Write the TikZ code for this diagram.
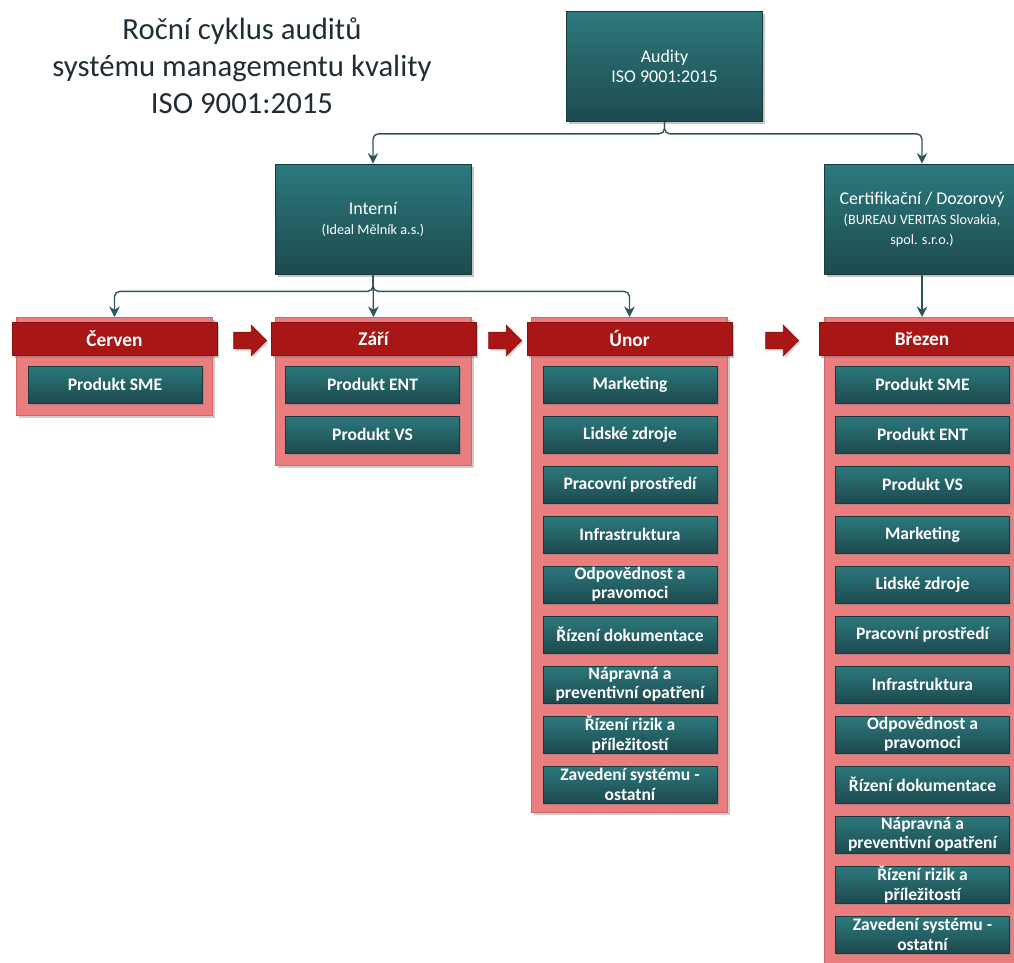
\documentclass[tikz,border=0pt]{standalone}
\usepackage{fontspec}
\setmainfont{Carlito}
\usepackage{tikz}
\usetikzlibrary{arrows.meta,positioning,shadows,shapes.arrows}
\definecolor{tealtop}{HTML}{2C797D}
\definecolor{tealbot}{HTML}{1D4A4E}
\definecolor{tealline}{HTML}{173A3C}
\definecolor{connline}{HTML}{2F5557}
\definecolor{monthred}{HTML}{A81616}
\definecolor{panelpink}{HTML}{EA7E7E}
\definecolor{panelline}{HTML}{D26666}
\definecolor{titlegray}{HTML}{1E2E34}
\newcommand{\subtxt}{\fontsize{8.1}{11.4}\selectfont}
\tikzset{%
	title/.style   = {align=center, text=titlegray, font=\fontsize{17.5}{21}\selectfont},
	audit/.style   = {draw=tealline, top color=tealtop, bottom color=tealbot, minimum width=3.92cm, minimum height=2.2cm, align=center, text=white, font=\fontsize{10.2}{11.4}\selectfont, drop shadow={shadow xshift=1.5pt, shadow yshift=-1.5pt, opacity=.45}},
	panel/.style   = {draw=panelline, fill=panelpink, minimum width=3.92cm, anchor=north, drop shadow={shadow xshift=1.5pt, shadow yshift=-1.5pt, opacity=.4}},
	month/.style   = {draw=monthred!80!black, fill=monthred, minimum width=4.1cm, minimum height=0.66cm, text=white, font=\fontsize{11}{13}\selectfont\bfseries, drop shadow={shadow xshift=1pt, shadow yshift=-1.5pt, opacity=.45}},
	item/.style    = {draw=tealline, top color=tealtop, bottom color=tealbot, minimum width=3.48cm, minimum height=0.74cm, inner sep=0pt, align=center, text=white, font=\fontsize{10}{11}\selectfont\bfseries, drop shadow={shadow xshift=1pt, shadow yshift=-1pt, opacity=.45}},
	next/.style    = {single arrow, fill=monthred, draw=monthred!85!black, inner xsep=0pt, inner ysep=0.16cm, single arrow head extend=0.14cm, single arrow head indent=0pt, minimum height=0.66cm, drop shadow={shadow xshift=1pt, shadow yshift=-1pt, opacity=.35}},
	conn/.style    = {draw=connline, thick, rounded corners=3pt, -{Stealth[length=6pt,width=6pt]}},
}
\begin{document}
\begin{tikzpicture}[x=0.02cm,y=-0.02cm]
	\useasboundingbox (0,0) rectangle (1014,963);
	\clip (0,0) rectangle (1014,963);
	\node[title] (title) at (242,66) {Roční cyklus auditů\\systému managementu kvality\\ISO 9001:2015};
	% top level
	\node[audit] (audit) at (664.5,66.5) {Audity\\ISO 9001:2015};
	\node[audit] (intern) at (373,219) {Interní\\{\subtxt (Ideal Mělník a.s.)}};
	\node[audit] (certif) at (922,219) {Certifikační / Dozorový\\{\subtxt (BUREAU VERITAS Slovakia,}\\{\subtxt spol. s.r.o.)}};
	% month panels
	\node[panel, minimum height=1.96cm] (cervenbox) at (114.5,317) {};
	\node[panel, minimum height=2.96cm] (zaribox) at (373.5,317) {};
	\node[panel, minimum height=9.9cm] (unorbox) at (629.5,317) {};
	\node[panel, minimum height=13.2cm] (brezenbox) at (922,317) {};
	\node[month] (cerven) at (114.5,338.5) {Červen};
	\node[month] (zari) at (373.5,338.5) {Září};
	\node[month] (unor) at (629.5,338.5) {Únor};
	\node[month] (brezen) at (922,338.5) {Březen};
	\node[next] (next1) at (246,340.5) {};
	\node[next] (next2) at (501,340.5) {};
	\node[next] (next3) at (778,340.5) {};
	% Cerven
	\node[item] (c1) at (115,384.5) {Produkt SME};
	% Zari
	\node[item] (z1) at (372.5,384.5) {Produkt ENT};
	\node[item] (z2) at (372.5,434.5) {Produkt VS};
	% Unor
	\node[item] (u1) at (630,384.5) {Marketing};
	\node[item] (u2) at (630,434.5) {Lidské zdroje};
	\node[item] (u3) at (630,484.5) {Pracovní prostředí};
	\node[item] (u4) at (630,534.5) {Infrastruktura};
	\node[item] (u5) at (630,584.5) {Odpovědnost a\\pravomoci};
	\node[item] (u6) at (630,634.5) {Řízení dokumentace};
	\node[item] (u7) at (630,684.5) {Nápravná a\\preventivní opatření};
	\node[item] (u8) at (630,734.5) {Řízení rizik a\\příležitostí};
	\node[item] (u9) at (630,784.5) {Zavedení systému -\\ostatní};
	% Brezen
	\node[item] (b1) at (922.5,384.5) {Produkt SME};
	\node[item] (b2) at (922.5,434.5) {Produkt ENT};
	\node[item] (b3) at (922.5,484.5) {Produkt VS};
	\node[item] (b4) at (922.5,534.5) {Marketing};
	\node[item] (b5) at (922.5,584.5) {Lidské zdroje};
	\node[item] (b6) at (922.5,634.5) {Pracovní prostředí};
	\node[item] (b7) at (922.5,684.5) {Infrastruktura};
	\node[item] (b8) at (922.5,734.5) {Odpovědnost a\\pravomoci};
	\node[item] (b9) at (922.5,784.5) {Řízení dokumentace};
	\node[item] (b10) at (922.5,834.5) {Nápravná a\\preventivní opatření};
	\node[item] (b11) at (922.5,884.5) {Řízení rizik a\\příležitostí};
	\node[item] (b12) at (922.5,934.5) {Zavedení systému -\\ostatní};
	% connectors
	\draw[conn] (audit.south) -- ++(0,12) -| (intern.north);
	\draw[conn] (audit.south) -- ++(0,12) -| (certif.north);
	\draw[conn] (intern.south) -- ++(0,17) -| (cervenbox.north);
	\draw[conn] (intern.south) -- (zaribox.north);
	\draw[conn] (intern.south) -- ++(0,17) -| (unorbox.north);
	\draw[conn] (certif.south) -- (brezenbox.north);
\end{tikzpicture}
\end{document}
